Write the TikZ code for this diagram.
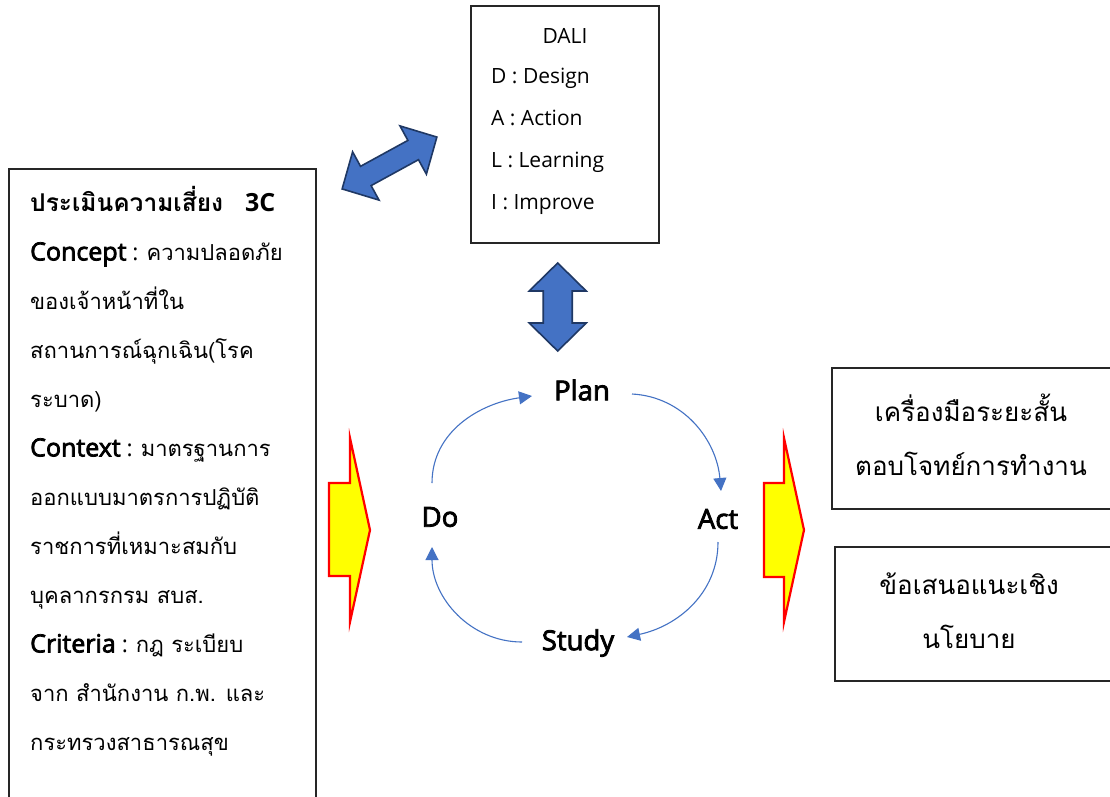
\documentclass[tikz,border=0pt]{standalone}
\usepackage{fontspec}
\setmainfont[Script=Thai]{Loma}
\newfontfamily\lat{Open Sans}
\newfontfamily\latsemi[FakeBold=3]{Open Sans}
\usetikzlibrary{arrows.meta,calc}

\definecolor{linkblue}{HTML}{4472C4}
\definecolor{linkedge}{HTML}{1F3864}
\definecolor{flowyellow}{HTML}{FFFF00}
\definecolor{flowred}{HTML}{FF0000}

\newcommand{\en}[1]{{\lat\fontsize{23}{49}\selectfont #1}}
\newcommand{\enb}[1]{{\latsemi\fontsize{25}{49}\selectfont #1}}

\tikzset{
  frame/.style={draw=black!85, line width=1.1pt, fill=white},
  linkarrow/.style={fill=linkblue, draw=linkedge, line width=1.6pt, line join=miter},
  flowarrow/.style={fill=flowyellow, draw=flowred, line width=2.2pt, line join=miter},
  cyclabel/.style={font=\latsemi\fontsize{27.5}{30}\selectfont, inner sep=0pt},
  cyc/.style={draw=linkblue, line width=1.1pt,
    -{Triangle[length=13pt,width=13pt]}, fill=none},
  bodytext/.style={font=\fontsize{22}{49}\selectfont, align=left, inner sep=0pt},
  dalitext/.style={font=\lat\fontsize{21}{42}\selectfont, inner sep=0pt},
  outtext/.style={font=\fontsize{26}{54}\selectfont, align=center, inner sep=0pt}
}

\begin{document}
\begin{tikzpicture}[x=1pt,y=1pt]
\clip (0,0) rectangle (1110,-796);
\fill[white] (0,0) rectangle (1110,-796);

% risk assessment box (runs off the bottom edge)
\draw[frame] (9,-169) rectangle (316,-812);
\node[bodytext, anchor=north west] (risk) at (30,-186) {%
  {\bfseries\fontsize{24.5}{49}\selectfont ประเมินความเสี่ยง}\hspace{22pt}%
  {\lat\bfseries\fontsize{25}{49}\selectfont 3C}\\
  \enb{Concept}\en{ : }ความปลอดภัย\\
  ของเจ้าหน้าที่ใน\\
  สถานการณ์ฉุกเฉิน(โรค\\
  ระบาด)\\
  \enb{Context}\en{ : }มาตรฐานการ\\
  ออกแบบมาตรการปฏิบัติ\\
  ราชการที่เหมาะสมกับ\\
  บุคลากรกรม สบส.\\
  \enb{Criteria}\en{ : }กฎ ระเบียบ\\
  จาก สำนักงาน ก.พ. และ\\
  กระทรวงสาธารณสุข};

% DALI box
\draw[frame] (471,-6) rectangle (659,-243);
\node[dalitext] (dali) at (565,-36) {DALI};
\node[dalitext, align=left, anchor=north west]
  (dalilist) at (491,-68) {D : Design\\A : Action\\L : Learning\\I : Improve};

% blue double arrows
\begin{scope}[shift={(389.5,-163)}, rotate=28.7]
  \draw[linkarrow] (-54,0) -- (-27,27.5) -- (-27,11) -- (27,11) -- (27,27.5)
    -- (54,0) -- (27,-27.5) -- (27,-11) -- (-27,-11) -- (-27,-27.5) -- cycle;
\end{scope}
\begin{scope}[shift={(557.7,-307)}, rotate=90]
  \draw[linkarrow] (-44,0) -- (-16,28.5) -- (-16,14.5) -- (16,14.5) -- (16,28.5)
    -- (44,0) -- (16,-28.5) -- (16,-14.5) -- (-16,-14.5) -- (-16,-28.5) -- cycle;
\end{scope}

% cycle
\node[cyclabel] (Plan) at (582,-390) {Plan};
\node[cyclabel] (Act)  at (718,-519) {Act};
\node[cyclabel] (Study) at (578,-643) {Study};
\node[cyclabel] (Do)   at (440,-517) {Do};

\draw[cyc] ($(Do)+(-8,34)$) to[out=90,in=188] ($(Plan)+(-50,-6)$);
\draw[cyc] ($(Plan)+(50,-4)$) to[out=-3,in=95] ($(Act)+(3,28)$);
\draw[cyc] ($(Act)+(0,-23)$) to[out=-90,in=12] ($(Study)+(49,6)$);
\draw[cyc] ($(Study)+(-56,1)$) to[out=180,in=-90] ($(Do)+(-8,-30)$);

% yellow flow arrows
\draw[flowarrow] (329,-483) -- (350,-483) -- (350,-438) -- (370,-530)
  -- (350,-622) -- (350,-576) -- (329,-576) -- cycle;
\draw[flowarrow] (764,-483) -- (784,-483) -- (784,-438) -- (804,-530)
  -- (784,-622) -- (784,-577) -- (764,-577) -- cycle;

% output boxes (run off the right edge)
\draw[frame] (832,-368) rectangle (1120,-509);
\node[outtext] (tool) at (971,-435) {เครื่องมือระยะสั้น\\ตอบโจทย์การทำงาน};
\draw[frame] (835,-547) rectangle (1120,-681);
\node[outtext] (policy) at (969,-611) {ข้อเสนอแนะเชิง\\นโยบาย};
\end{tikzpicture}
\end{document}
